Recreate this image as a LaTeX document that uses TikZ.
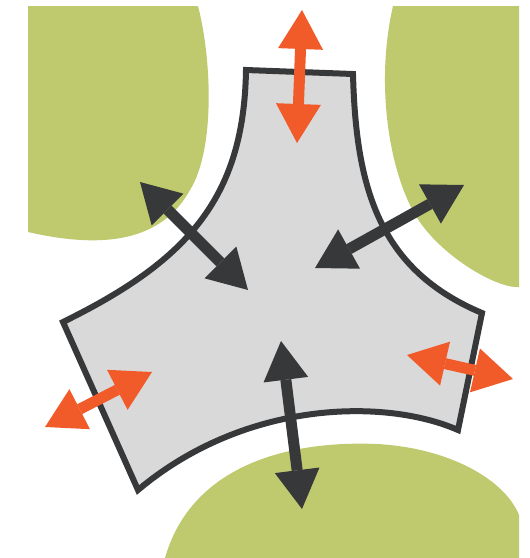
\documentclass[tikz,border=0pt]{standalone}
\usetikzlibrary{arrows.meta}
\definecolor{leafgreen}{RGB}{191,201,110}
\definecolor{bodygray}{RGB}{217,217,217}
\definecolor{darkline}{RGB}{55,56,58}
\definecolor{orangered}{RGB}{241,90,41}
\tikzset{
  leaf/.style={fill=leafgreen},
  body/.style={fill=bodygray, draw=darkline, line width=6pt, line join=miter},
  twoway/.style={line width=11pt, {Triangle[length=39pt,width=45pt,line width=0pt]}-{Triangle[length=39pt,width=45pt,line width=0pt]}},
  darkarrow/.style={twoway, draw=darkline, fill=darkline},
  orangearrow/.style={twoway, draw=orangered, fill=orangered}
}
\begin{document}
\begin{tikzpicture}[x=1pt,y=-1pt]
\useasboundingbox (0,0) rectangle (530,558);
% green regions
\fill[leaf] (28,6) -- (198,6) .. controls (212,60) and (215,150) .. (190,190)
  .. controls (165,235) and (115,252) .. (28,232) -- cycle;
\fill[leaf] (393,6) -- (519,6) -- (519,287) .. controls (495,289) and (430,250) .. (410,205)
  .. controls (388,160) and (376,80) .. (393,6) -- cycle;
\fill[leaf] (165,558) .. controls (190,470) and (280,440) .. (377,444)
  .. controls (450,448) and (505,480) .. (519,515) -- (519,558) -- cycle;
% gray body
\filldraw[body] (246,70) -- (353,74) .. controls (356,190) and (380,270) .. (482,313)
  -- (458,430) .. controls (385,398) and (245,400) .. (138,490)
  -- (63,322) .. controls (185,262) and (244,200) .. (246,70) -- cycle;
% arrow end points
\coordinate (d1a) at (140,182); \coordinate (d1b) at (248,290);
\coordinate (d2a) at (464,185); \coordinate (d2b) at (315,268);
\coordinate (d3a) at (281,341); \coordinate (d3b) at (302,509);
\coordinate (o1a) at (302,10);  \coordinate (o1b) at (297,143);
\coordinate (o2a) at (45,427);  \coordinate (o2b) at (152,372);
\coordinate (o3a) at (407,355); \coordinate (o3b) at (513,379);
% arrows
\draw[darkarrow] (d1a) -- (d1b);
\draw[darkarrow] (d2a) -- (d2b);
\draw[darkarrow] (d3a) -- (d3b);
\draw[orangearrow] (o1a) -- (o1b);
\draw[orangearrow] (o2a) -- (o2b);
\draw[orangearrow] (o3a) -- (o3b);
\end{tikzpicture}
\end{document}
